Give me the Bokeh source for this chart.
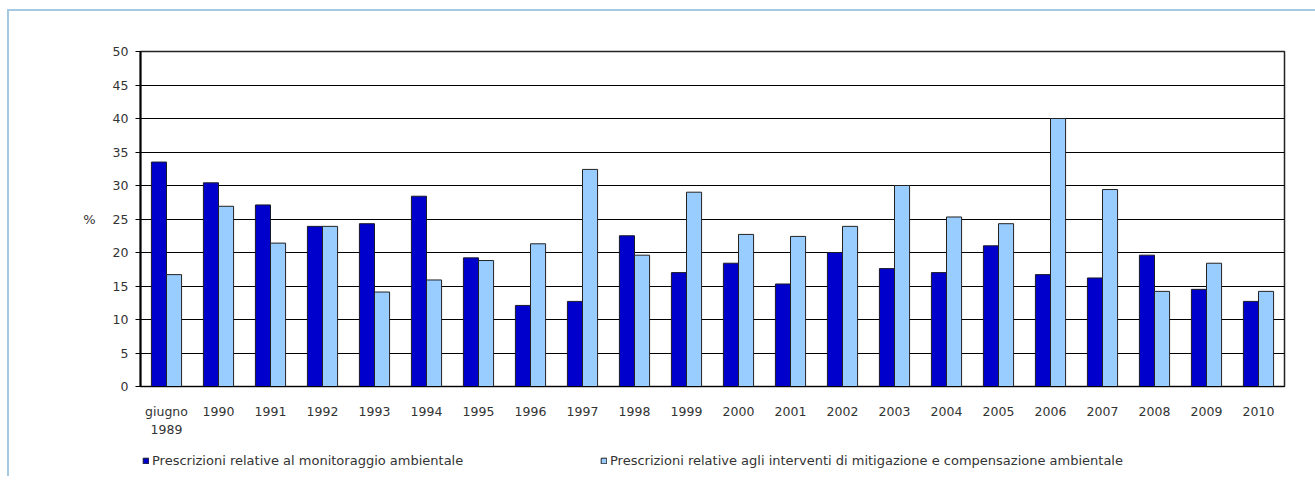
from bokeh.plotting import figure
from bokeh.layouts import column
from bokeh.models import (ColumnDataSource, Legend, LegendItem, FactorRange,
                          SingleIntervalTicker, Range1d)
from bokeh.transform import dodge
from bokeh.embed import file_html
from bokeh.resources import INLINE

categories = ["giugno\n1989", "1990", "1991", "1992", "1993", "1994", "1995", "1996",
              "1997", "1998", "1999", "2000", "2001", "2002", "2003", "2004", "2005",
              "2006", "2007", "2008", "2009", "2010"]
monitoraggio = [33.5, 30.4, 27.1, 23.9, 24.3, 28.4, 19.2, 12.1, 12.7, 22.5, 17.0,
                18.4, 15.3, 20.0, 17.6, 17.0, 21.0, 16.7, 16.2, 19.6, 14.5, 12.7]
mitigazione = [16.7, 26.9, 21.4, 23.9, 14.1, 15.9, 18.8, 21.3, 32.4, 19.6, 29.0,
               22.7, 22.4, 23.9, 30.0, 25.3, 24.3, 40.0, 29.4, 14.2, 18.4, 14.2]
label_mon = "Prescrizioni relative al monitoraggio ambientale"
label_mit = "Prescrizioni relative agli interventi di mitigazione e compensazione ambientale"

src = ColumnDataSource(dict(cat=categories, mon=monitoraggio, mit=mitigazione))

FONT = "DejaVu Sans"
TXT = "#333333"
DARK = "#0000CC"
LIGHT = "#99CCFF"

p = figure(x_range=FactorRange(*categories, range_padding=0), y_range=(0, 50),
           frame_width=1144, frame_height=335, output_backend="svg", toolbar_location=None,
           min_border_left=131, min_border_right=31, min_border_top=40, min_border_bottom=60,
           background_fill_color="white", border_fill_color="white")

p.vbar(x=dodge("cat", -0.145, range=p.x_range), top="mon", width=0.29, source=src,
       fill_color=DARK, line_color="#1a1a2a", line_width=1)
p.vbar(x=dodge("cat", 0.145, range=p.x_range), top="mit", width=0.29, source=src,
       fill_color=LIGHT, line_color="#222222", line_width=1)

p.outline_line_color = "#222222"
p.outline_line_width = 1.5
p.xgrid.grid_line_color = None
p.ygrid.grid_line_color = "black"
p.ygrid.grid_line_width = 1
p.ygrid.grid_line_alpha = 1

p.yaxis.ticker = SingleIntervalTicker(interval=5)
p.yaxis.axis_line_color = "black"
p.yaxis.axis_line_width = 2
p.yaxis.major_tick_line_color = "black"
p.yaxis.major_tick_out = 5
p.yaxis.major_tick_in = 0
p.yaxis.minor_tick_line_color = None
p.yaxis.major_label_standoff = 7
p.yaxis.axis_label = "%"
p.yaxis.axis_label_orientation = "horizontal"
p.yaxis.axis_label_standoff = 14
p.yaxis.axis_label_text_font_style = "normal"
p.yaxis.axis_label_text_font_size = "13px"
p.yaxis.axis_label_text_font = FONT
p.yaxis.axis_label_text_color = TXT

p.xaxis.axis_line_color = "black"
p.xaxis.axis_line_width = 1
p.xaxis.major_tick_line_color = None
p.xaxis.minor_tick_line_color = None
p.xaxis.major_label_standoff = 11

for ax in (p.xaxis, p.yaxis):
    ax.major_label_text_font = FONT
    ax.major_label_text_font_size = "12.5px"
    ax.major_label_text_color = TXT

# legend strip below the chart (its bars lie far outside its visible y range)
pl = figure(width=1306, height=30, x_range=p.x_range, y_range=Range1d(1000, 1001),
            x_axis_type=None, y_axis_type=None, output_backend="svg", toolbar_location=None,
            min_border=0, min_border_left=0, min_border_right=0, min_border_top=0,
            min_border_bottom=0, outline_line_color=None,
            background_fill_color="white", border_fill_color="white")
pl.grid.visible = False
l1 = pl.vbar(x=dodge("cat", -0.145, range=p.x_range), top="mon", width=0.29, source=src,
             fill_color=DARK, line_color="#1a1a2a", line_width=1)
l2 = pl.vbar(x=dodge("cat", 0.145, range=p.x_range), top="mit", width=0.29, source=src,
             fill_color=LIGHT, line_color="#222222", line_width=1)

legend = Legend(items=[LegendItem(label=label_mon, renderers=[l1]),
                       LegendItem(label=label_mit, renderers=[l2])],
                location=(2, 8), orientation="horizontal",
                padding=0, margin=0, spacing=0, border_line_color=None,
                background_fill_alpha=0, glyph_width=7, glyph_height=7,
                label_standoff=3, label_width=448, label_text_font=FONT,
                label_text_font_size="13px", label_text_color=TXT, label_height=13)
pl.add_layout(legend, "center")

layout = column(p, pl, spacing=0)
layout.styles = {"margin-left": "7px", "margin-top": "9px",
                 "border-left": "2px solid #a6c9e2", "border-top": "2px solid #a6c9e2"}

open("out.html", "w").write(file_html(layout, INLINE))
